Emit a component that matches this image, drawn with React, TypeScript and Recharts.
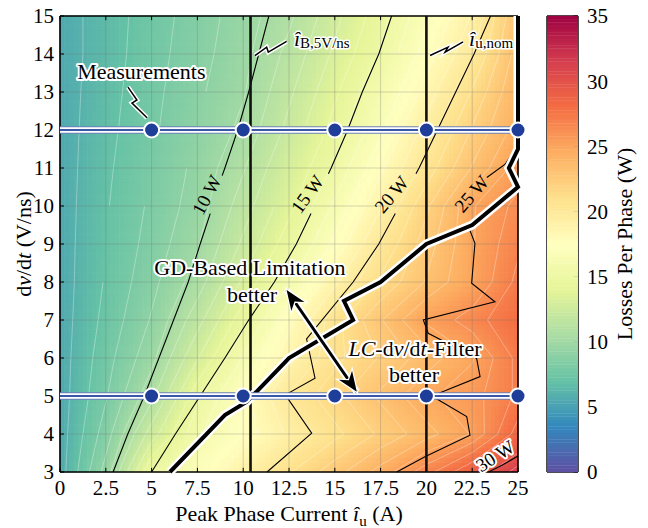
import React from 'react';
import { ComposedChart, Line, Scatter, XAxis, YAxis, ReferenceLine } from 'recharts';

const FONT = '"Liberation Serif", "Times New Roman", Times, serif';

// ---------------- data ----------------
const currents = [0, 2.5, 5, 7.5, 10, 12.5, 15, 17.5, 20, 22.5, 25];
const dvdtLevels = [3, 4, 5, 6, 7, 8, 9, 10, 11, 12, 13, 14, 15];
// losses per phase (W): one row per dv/dt level, one column per current
const lossRows = [
  [5.5, 9.4, 15.0, 17.0, 19.0, 20.9, 22.6, 24.4, 26.6, 29.0, 31.5],
  [5.5, 8.5, 12.5, 15.8, 17.5, 19.2, 20.7, 22.2, 23.6, 25.1, 28.5],
  [5.5, 7.9, 10.7, 14.7, 17.5, 20.1, 21.7, 23.2, 24.8, 25.6, 27.2],
  [5.5, 7.6, 9.7, 12.9, 16.1, 18.7, 20.7, 22.1, 23.5, 24.9, 27.3],
  [5.5, 7.3, 9.1, 11.6, 14.6, 17.7, 20.6, 22.9, 25.2, 26.5, 28.0],
  [5.5, 7.1, 8.7, 10.5, 13.2, 15.9, 18.8, 21.2, 23.1, 25.0, 27.3],
  [5.5, 7.0, 8.4, 9.9, 12.2, 14.6, 17.3, 20.1, 22.5, 24.9, 26.8],
  [5.5, 6.9, 8.2, 9.5, 11.5, 13.7, 16.2, 18.9, 21.8, 24.9, 26.3],
  [5.5, 6.8, 8.0, 9.3, 10.9, 13.0, 15.2, 17.8, 20.4, 23.1, 25.5],
  [5.5, 6.7, 7.8, 9.0, 10.3, 12.3, 14.4, 16.8, 19.4, 22.1, 24.5],
  [5.5, 6.6, 7.7, 8.8, 9.9, 11.8, 13.8, 16.0, 18.4, 21.1, 24.0],
  [5.5, 6.5, 7.6, 8.6, 9.7, 11.3, 13.2, 15.1, 17.5, 19.9, 23.5],
  [5.5, 6.5, 7.5, 8.5, 9.5, 10.8, 12.7, 14.6, 16.8, 19.1, 23.0],
];
const colorbarTicks = [0, 5, 10, 15, 20, 25, 30, 35];

const contour10Lower = [
  { x: 2.9, y: 3 }, { x: 3.7, y: 4 }, { x: 4.6, y: 5 }, { x: 5.4, y: 6 }, { x: 6.2, y: 7 },
  { x: 7.0, y: 8 }, { x: 7.65, y: 9 }, { x: 8.2, y: 9.8 },
];
const contour10Upper = [
  { x: 8.85, y: 10.8 }, { x: 9.0, y: 11 }, { x: 9.7, y: 12 }, { x: 10.3, y: 13 }, { x: 10.85, y: 14 }, { x: 11.4, y: 15 },
];
const contour15Lower = [
  { x: 5.0, y: 3 }, { x: 6.3, y: 4 }, { x: 7.65, y: 5 }, { x: 9.0, y: 6 }, { x: 10.3, y: 7 },
  { x: 11.7, y: 8 }, { x: 12.9, y: 9 }, { x: 13.7, y: 9.8 },
];
const contour15Upper = [
  { x: 14.65, y: 10.85 }, { x: 14.8, y: 11 }, { x: 15.7, y: 12 }, { x: 16.5, y: 13 }, { x: 17.4, y: 14 }, { x: 18.1, y: 15 },
];
const contour20Upper = [
  { x: 19.43, y: 10.85 }, { x: 19.6, y: 11 }, { x: 20.6, y: 12 }, { x: 21.6, y: 13 }, { x: 22.6, y: 14 }, { x: 23.5, y: 15 },
];
const contour20Lower = [
  { x: 18.3, y: 9.8 }, { x: 17.4, y: 9 }, { x: 16.0, y: 8 }, { x: 13.46, y: 6.5 }, { x: 13.92, y: 5.47 },
  { x: 12.3, y: 5.03 }, { x: 13.74, y: 4.02 }, { x: 11.3, y: 3 },
];
const contour25Upper = [{ x: 23.3, y: 10.75 }, { x: 24.3, y: 11.1 }, { x: 25, y: 11.6 }];
const contour25Lower = [
  { x: 22.3, y: 9.45 }, { x: 22.65, y: 9.02 }, { x: 22.47, y: 7.97 }, { x: 23.74, y: 7.48 }, { x: 19.83, y: 7.0 },
  { x: 20.1, y: 6.65 }, { x: 22.74, y: 5.99 }, { x: 22.93, y: 5.51 }, { x: 20.3, y: 5.0 }, { x: 22.2, y: 4.46 },
  { x: 22.38, y: 3.97 }, { x: 19.92, y: 3.4 }, { x: 18.38, y: 3.0 },
];
const contour30 = [{ x: 23.4, y: 3 }, { x: 24.2, y: 3.2 }, { x: 25, y: 3.42 }];

const iB5Vns = 10.4;
const iNom = 20;
const gdBoundary = [
  { x: 6, y: 3 }, { x: 9, y: 4.5 }, { x: 10.2, y: 4.85 }, { x: 12.5, y: 6 }, { x: 16, y: 7 }, { x: 15.5, y: 7.5 },
  { x: 17.5, y: 8 }, { x: 20, y: 9 }, { x: 22.5, y: 9.5 }, { x: 25, y: 10.5 }, { x: 24.5, y: 11 }, { x: 25, y: 11.5 },
  { x: 25, y: 15 },
];
const measCurrents = [5, 10, 15, 20, 25];
const measDvdt = [12, 5];

// annotation anchors (data coordinates)
const boltMeasure = [{ x: 3.71, y: 13.13 }, { x: 4.2, y: 12.79 }, { x: 3.93, y: 12.71 }, { x: 4.75, y: 12.32 }];
const boltIB = [{ x: 10.64, y: 13.96 }, { x: 11.28, y: 14.18 }, { x: 11.37, y: 14.05 }, { x: 12.37, y: 14.33 }];
const boltINom = [{ x: 20.2, y: 13.96 }, { x: 21.18, y: 14.18 }, { x: 21.02, y: 14.05 }, { x: 22.0, y: 14.32 }];
const arrowEnds = [{ x: 12.37, y: 7.79 }, { x: 16.2, y: 5.11 }];
const contourLabels = [
  { x: 8.01, y: 10.29, text: '10 W', angle: -62 },
  { x: 13.5, y: 10.31, text: '15 W', angle: -54 },
  { x: 18.1, y: 10.3, text: '20 W', angle: -50 },
  { x: 22.47, y: 10.32, text: '25 W', angle: -49 },
  { x: 23.75, y: 3.42, text: '30 W', angle: -33 },
];

// ---------------- colour map (Spectral, reversed) ----------------
const SPECTRAL = ['#5e4fa2', '#3288bd', '#66c2a5', '#abdda4', '#e6f598', '#ffffbf', '#fee08b', '#fdae61', '#f46d43', '#d53e4f', '#9e0142'];
const hex = (h: string) => [1, 3, 5].map((i) => parseInt(h.slice(i, i + 2), 16));
const lossColor = (v: number) => {
  const t = Math.max(0, Math.min(1, v / 35)) * (SPECTRAL.length - 1);
  const i = Math.min(Math.floor(t), SPECTRAL.length - 2);
  const f = t - i;
  const a = hex(SPECTRAL[i]);
  const b = hex(SPECTRAL[i + 1]);
  const c = a.map((av, k) => Math.round(av + (b[k] - av) * f));
  return `rgb(${c[0]},${c[1]},${c[2]})`;
};

// filled field: each grid cell shaded from its four corner values
const NX = 10;
const NY = 8;
const heatPoints: { x: number; y: number; fill: string }[] = [];
for (let r = 0; r < dvdtLevels.length - 1; r++) {
  for (let c = 0; c < currents.length - 1; c++) {
    const x0 = currents[c], x1 = currents[c + 1], y0 = dvdtLevels[r], y1 = dvdtLevels[r + 1];
    const v00 = lossRows[r][c], v10 = lossRows[r][c + 1], v01 = lossRows[r + 1][c], v11 = lossRows[r + 1][c + 1];
    for (let i = 0; i < NX; i++) {
      for (let j = 0; j < NY; j++) {
        const u = (i + 0.5) / NX;
        const w = (j + 0.5) / NY;
        const v = v00 * (1 - u) * (1 - w) + v10 * u * (1 - w) + v01 * (1 - u) * w + v11 * u * w;
        heatPoints.push({ x: x0 + u * (x1 - x0), y: y0 + w * (y1 - y0), fill: lossColor(v) });
      }
    }
  }
}

// faint level lines of the filled field (marching squares on the grid, 1 W apart)
const bandLevels: number[] = [];
for (let L = 6; L <= 31; L += 1) bandLevels.push(L);
const bandLines = bandLevels.map((L) => {
  const pts: { x: number; y: number | null }[] = [];
  for (let r = 0; r < dvdtLevels.length - 1; r++) {
    for (let c = 0; c < currents.length - 1; c++) {
      const x0 = currents[c], x1 = currents[c + 1], y0 = dvdtLevels[r], y1 = dvdtLevels[r + 1];
      const corners = [
        { x: x0, y: y0, v: lossRows[r][c] },
        { x: x1, y: y0, v: lossRows[r][c + 1] },
        { x: x1, y: y1, v: lossRows[r + 1][c + 1] },
        { x: x0, y: y1, v: lossRows[r + 1][c] },
      ];
      const hits: { x: number; y: number }[] = [];
      for (let e = 0; e < 4; e++) {
        const a = corners[e];
        const b = corners[(e + 1) % 4];
        if ((a.v - L) * (b.v - L) < 0) {
          const t = (L - a.v) / (b.v - a.v);
          hits.push({ x: a.x + t * (b.x - a.x), y: a.y + t * (b.y - a.y) });
        }
      }
      for (let k = 0; k + 1 < hits.length; k += 2) {
        pts.push(hits[k], hits[k + 1], { x: hits[k + 1].x, y: null });
      }
    }
  }
  return { level: L, pts };
});

const colorbarStrips: { x: number; y: number; fill: string }[] = [];
for (let k = 0; k < 140; k++) {
  const v = (k + 0.5) * 0.25;
  colorbarStrips.push({ x: 0.5, y: v, fill: lossColor(v) });
}
const measPoints = measDvdt.flatMap((y) => measCurrents.map((x) => ({ x, y })));

// ---------------- helpers ----------------
const HALO = { stroke: '#fff', strokeWidth: 4, paintOrder: 'stroke' as const, strokeLinejoin: 'round' as const };

const poly = (key: string, data: any[], stroke: string, width: number, extra: any = {}) => (
  <Line
    key={key}
    data={data}
    dataKey="y"
    type="linear"
    stroke={stroke}
    strokeWidth={width}
    dot={false}
    activeDot={false}
    isAnimationActive={false}
    legendType="none"
    {...extra}
  />
);

const note = (key: string, x: number, y: number, render: (cx: number, cy: number) => any) => (
  <Scatter
    key={key}
    data={[{ x, y }]}
    dataKey="y"
    isAnimationActive={false}
    legendType="none"
    shape={(p: any) => render(p.cx, p.cy)}
  />
);

const HeatCell = (p: any) => (
  <rect x={p.cx - 2.6} y={p.cy - 2.7} width={5.2} height={5.4} fill={p.payload.fill} />
);
const StripCell = (p: any) => (
  <rect x={p.cx - 15.5} y={p.cy - 1.8} width={31} height={3.6} fill={p.payload.fill} />
);
const MeasDot = (p: any) => <circle cx={p.cx} cy={p.cy} r={7.5} fill="#1f3e99" stroke="#fff" strokeWidth={2} />;
const ArrowHead = (p: any) => (
  <path
    transform={`translate(${p.cx},${p.cy}) rotate(${p.payload.angle})`}
    d="M0,0 L-20,-8 L-14,0 L-20,8 Z"
    fill="#000"
    stroke="#fff"
    strokeWidth={2.5}
    strokeLinejoin="miter"
    style={{ paintOrder: 'stroke' }}
  />
);

const XTitle = (props: any) => {
  const vb = props.viewBox || { x: 60, y: 472, width: 458 };
  return (
    <text x={vb.x + vb.width / 2} y={vb.y + 49} textAnchor="middle" fontFamily={FONT} fontSize={22} fill="#000">
      {'Peak Phase Current '}
      <tspan fontStyle="italic">î</tspan>
      <tspan fontSize={15} dy={5}>u</tspan>
      <tspan dy={-5}>{' (A)'}</tspan>
    </text>
  );
};
const YTitle = (props: any) => {
  const vb = props.viewBox || { x: 10, y: 16, width: 50, height: 456 };
  const cy = vb.y + vb.height / 2;
  return (
    <text transform={`rotate(-90 31 ${cy})`} x={31} y={cy} textAnchor="middle" fontFamily={FONT} fontSize={22} fill="#000">
      d<tspan fontStyle="italic">v</tspan>/d<tspan fontStyle="italic">t</tspan>
      {' (V/ns)'}
    </text>
  );
};
const CTitle = (props: any) => {
  const vb = props.viewBox || { x: 578, y: 16, width: 60, height: 456 };
  const cy = vb.y + vb.height / 2;
  return (
    <text transform={`rotate(-90 632 ${cy})`} x={632} y={cy} textAnchor="middle" fontFamily={FONT} fontSize={22} fill="#000">
      Losses Per Phase (W)
    </text>
  );
};

const tickStyle = { fontSize: 21, fontFamily: FONT, fill: '#000' };
const W = 648;
const H = 528;

export default function App() {
  const xTickLen = 0.22;
  const yTickLen = 0.11;
  return (
    <div style={{ position: 'absolute', left: 0, top: 0, width: W, height: H, background: '#fff' }}>
      {/* filled contour field */}
      <div style={{ position: 'absolute', left: 0, top: 0 }}>
        <ComposedChart width={W} height={H} margin={{ top: 16, right: 130, bottom: 56, left: 60 }}>
          <XAxis hide type="number" dataKey="x" domain={[0, 25]} />
          <YAxis hide type="number" dataKey="y" domain={[3, 15]} />
          <Scatter data={heatPoints} dataKey="y" shape={HeatCell} isAnimationActive={false} legendType="none" />
        </ComposedChart>
      </div>

      {/* lines, markers and annotations */}
      <div style={{ position: 'absolute', left: 0, top: 0 }}>
        <ComposedChart width={W} height={H} margin={{ top: 16, right: 130, bottom: 26, left: 10 }}>
          <XAxis
            type="number"
            dataKey="x"
            domain={[0, 25]}
            ticks={currents}
            interval={0}
            height={30}
            tickSize={0}
            tickMargin={8}
            axisLine={false}
            tickLine={false}
            tick={tickStyle}
            label={<XTitle />}
          />
          <YAxis
            type="number"
            dataKey="y"
            domain={[3, 15]}
            ticks={dvdtLevels}
            interval={0}
            width={50}
            tickSize={0}
            tickMargin={6}
            axisLine={false}
            tickLine={false}
            tick={tickStyle}
            label={<YTitle />}
          />
          {bandLines.map((b) => poly(`band${b.level}`, b.pts, '#ffffff', 0.8, { strokeOpacity: 0.4 }))}
          {currents.slice(1, -1).map((x) => (
            <ReferenceLine key={`gx${x}`} x={x} stroke="#6f6f6f" strokeOpacity={0.3} strokeWidth={1} />
          ))}
          {dvdtLevels.slice(1, -1).map((y) => (
            <ReferenceLine key={`gy${y}`} y={y} stroke="#6f6f6f" strokeOpacity={0.3} strokeWidth={1} />
          ))}
          {currents.map((x) => (
            <ReferenceLine key={`tb${x}`} segment={[{ x, y: 3 }, { x, y: 3 + yTickLen }]} stroke="#000" strokeWidth={1} />
          ))}
          {currents.map((x) => (
            <ReferenceLine key={`tt${x}`} segment={[{ x, y: 15 }, { x, y: 15 - yTickLen }]} stroke="#000" strokeWidth={1} />
          ))}
          {dvdtLevels.map((y) => (
            <ReferenceLine key={`tl${y}`} segment={[{ x: 0, y }, { x: xTickLen, y }]} stroke="#000" strokeWidth={1} />
          ))}
          <ReferenceLine x={0} stroke="#000" strokeWidth={1.6} />
          <ReferenceLine x={25} stroke="#000" strokeWidth={1.6} />
          <ReferenceLine y={3} stroke="#000" strokeWidth={1.6} />
          <ReferenceLine y={15} stroke="#000" strokeWidth={1.6} />

          {poly('c10a', contour10Lower, '#000', 1.1)}
          {poly('c10b', contour10Upper, '#000', 1.1)}
          {poly('c15a', contour15Lower, '#000', 1.1)}
          {poly('c15b', contour15Upper, '#000', 1.1)}
          {poly('c20a', contour20Upper, '#000', 1.1)}
          {poly('c20b', contour20Lower, '#000', 1.1)}
          {poly('c25a', contour25Upper, '#000', 1.1)}
          {poly('c25b', contour25Lower, '#000', 1.1)}
          {poly('c30', contour30, '#000', 1.1)}

          {poly('vB', [{ x: iB5Vns, y: 3 }, { x: iB5Vns, y: 15 }], '#111', 2.6)}
          {poly('vN', [{ x: iNom, y: 3 }, { x: iNom, y: 15 }], '#111', 2.6)}

          {poly('bdH', gdBoundary, '#fff', 9, { strokeLinejoin: 'miter' })}
          {poly('bd', gdBoundary, '#000', 4, { strokeLinejoin: 'miter' })}

          {measDvdt.map((y) => poly(`mo${y}`, [{ x: 0, y }, { x: 25, y }], '#6b80bb', 7.5))}
          {measDvdt.map((y) => poly(`mw${y}`, [{ x: 0, y }, { x: 25, y }], '#fff', 5.5))}
          {measDvdt.map((y) => poly(`mb${y}`, [{ x: 0, y }, { x: 25, y }], '#3a56a6', 2.2))}

          {poly('bmH', boltMeasure, '#fff', 4.5)}
          {poly('bm', boltMeasure, '#000', 1.5)}
          {poly('biH', boltIB, '#fff', 4.5)}
          {poly('bi', boltIB, '#000', 1.5)}
          {poly('bnH', boltINom, '#fff', 4.5)}
          {poly('bn', boltINom, '#000', 1.5)}

          {poly('arH', arrowEnds, '#fff', 7)}
          {poly('ar', arrowEnds, '#000', 3)}

          <Scatter data={measPoints} dataKey="y" shape={MeasDot} isAnimationActive={false} legendType="none" />
          <Scatter
            data={[
              { ...arrowEnds[0], angle: 235.5 },
              { ...arrowEnds[1], angle: 55.5 },
            ]}
            dataKey="y"
            shape={ArrowHead}
            isAnimationActive={false}
            legendType="none"
          />

          {contourLabels.map((l) =>
            note(`lab${l.text}`, l.x, l.y, (cx, cy) => (
              <text
                x={cx}
                y={cy}
                transform={`rotate(${l.angle} ${cx} ${cy})`}
                textAnchor="middle"
                dominantBaseline="central"
                fontFamily={FONT}
                fontSize={19}
                fill="#000"
                {...(l.text === '30 W' ? HALO : {})}
              >
                {l.text}
              </text>
            )),
          )}

          {note('tMeas', 4.44, 13.33, (cx, cy) => (
            <text x={cx} y={cy} textAnchor="middle" fontFamily={FONT} fontSize={22} fill="#000" {...HALO}>
              Measurements
            </text>
          ))}
          {note('tIB', 12.77, 14.21, (cx, cy) => (
            <text x={cx} y={cy} fontFamily={FONT} fontSize={22} fill="#000" {...HALO} strokeWidth={3}>
              <tspan fontStyle="italic">î</tspan>
              <tspan fontSize={15} dy={2}>B,5V/ns</tspan>
            </text>
          ))}
          {note('tIN', 22.33, 14.21, (cx, cy) => (
            <text x={cx} y={cy} fontFamily={FONT} fontSize={22} fill="#000" {...HALO} strokeWidth={3}>
              <tspan fontStyle="italic">î</tspan>
              <tspan fontSize={15} dy={2}>u,nom</tspan>
            </text>
          ))}
          {note('tGD', 10.37, 8.18, (cx, cy) => (
            <text x={cx} y={cy} textAnchor="middle" fontFamily={FONT} fontSize={22} fill="#000" {...HALO}>
              GD-Based Limitation
            </text>
          ))}
          {note('tGD2', 10.48, 7.47, (cx, cy) => (
            <text x={cx} y={cy} textAnchor="middle" fontFamily={FONT} fontSize={22} fill="#000" {...HALO}>
              better
            </text>
          ))}
          {note('tLC', 19.38, 6.05, (cx, cy) => (
            <text x={cx} y={cy} textAnchor="middle" fontFamily={FONT} fontSize={22} fill="#000" {...HALO}>
              <tspan fontStyle="italic">LC</tspan>-d<tspan fontStyle="italic">v</tspan>/d<tspan fontStyle="italic">t</tspan>-Filter
            </text>
          ))}
          {note('tLC2', 19.32, 5.37, (cx, cy) => (
            <text x={cx} y={cy} textAnchor="middle" fontFamily={FONT} fontSize={22} fill="#000" {...HALO}>
              better
            </text>
          ))}
        </ComposedChart>
      </div>

      {/* colour bar */}
      <div style={{ position: 'absolute', left: 0, top: 0 }}>
        <ComposedChart width={W} height={H} margin={{ top: 16, right: 10, bottom: 56, left: 547 }}>
          <XAxis hide type="number" dataKey="x" domain={[0, 1]} />
          <YAxis
            orientation="right"
            type="number"
            dataKey="y"
            domain={[0, 35]}
            ticks={colorbarTicks}
            interval={0}
            width={60}
            tickSize={0}
            tickMargin={9}
            axisLine={false}
            tickLine={false}
            tick={tickStyle}
            label={<CTitle />}
          />
          <Scatter data={colorbarStrips} dataKey="y" shape={StripCell} isAnimationActive={false} legendType="none" />
          {colorbarTicks.map((v) => (
            <ReferenceLine key={`ct${v}`} segment={[{ x: 1, y: v }, { x: 0.86, y: v }]} stroke="#000" strokeWidth={1} />
          ))}
          <ReferenceLine x={0} stroke="#000" strokeWidth={1.4} />
          <ReferenceLine x={1} stroke="#000" strokeWidth={1.4} />
          <ReferenceLine y={0} stroke="#000" strokeWidth={1.4} />
          <ReferenceLine y={35} stroke="#000" strokeWidth={1.4} />
        </ComposedChart>
      </div>
    </div>
  );
}
